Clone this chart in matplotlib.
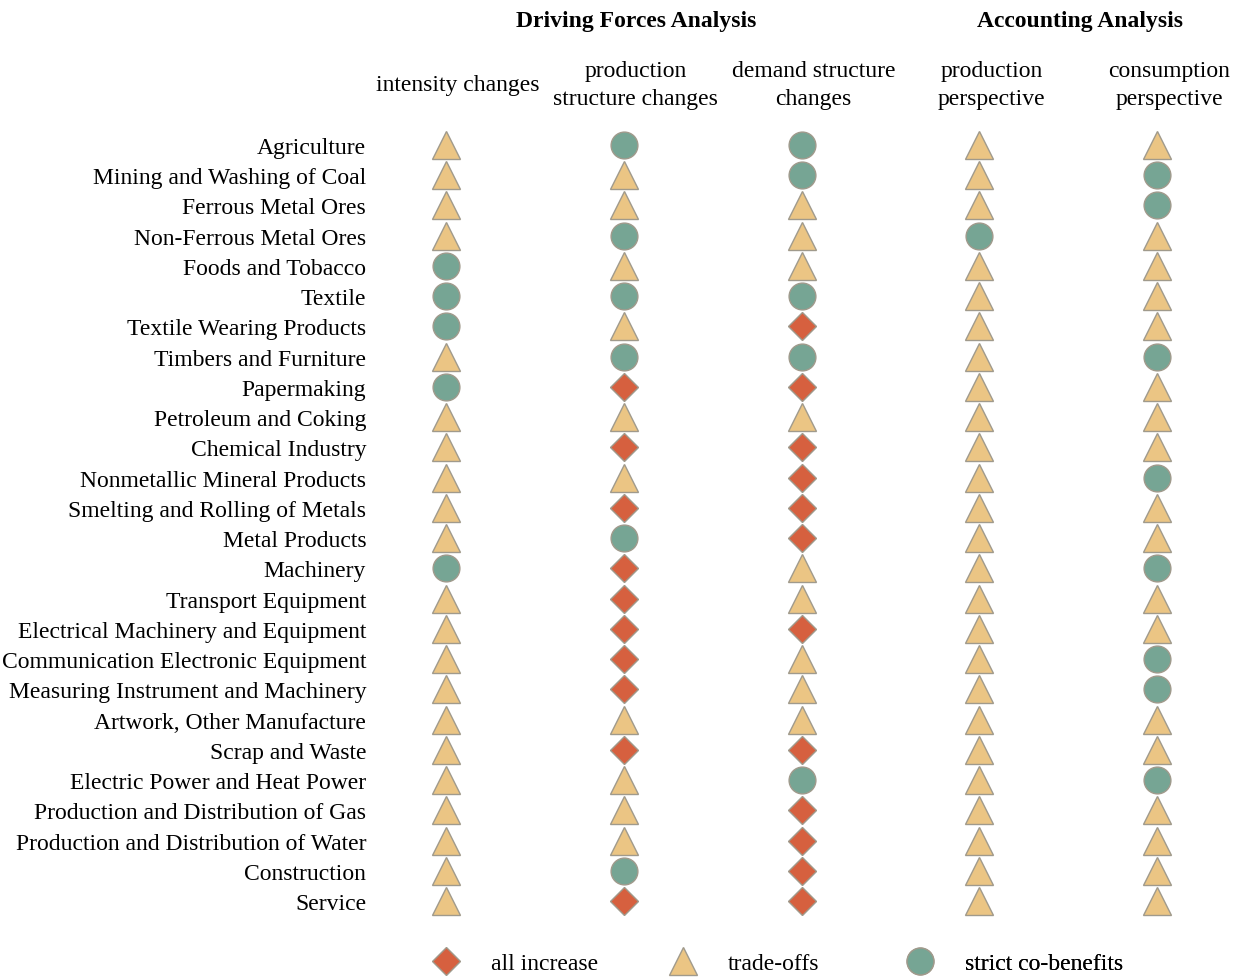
import matplotlib
matplotlib.use("Agg")
import matplotlib.pyplot as plt
from matplotlib.lines import Line2D

plt.rcParams['font.family'] = ['Liberation Serif', 'DejaVu Serif']

sectors = [
    "Agriculture", "Mining and Washing of Coal", "Ferrous Metal Ores",
    "Non-Ferrous Metal Ores", "Foods and Tobacco", "Textile",
    "Textile Wearing Products", "Timbers and Furniture", "Papermaking",
    "Petroleum and Coking", "Chemical Industry", "Nonmetallic Mineral Products",
    "Smelting and Rolling of Metals", "Metal Products", "Machinery",
    "Transport Equipment", "Electrical Machinery and Equipment",
    "Communication Electronic Equipment", "Measuring Instrument and Machinery",
    "Artwork, Other Manufacture", "Scrap and Waste",
    "Electric Power and Heat Power", "Production and Distribution of Gas",
    "Production and Distribution of Water", "Construction", "Service",
]

columns = ["intensity changes", "production\nstructure changes",
           "demand structure\nchanges", "production\nperspective",
           "consumption\nperspective"]
groups = ["Driving Forces Analysis", "Accounting Analysis"]

# D = all increase, T = trade-offs, C = strict co-benefits
intensity = list("TTTTCCCTCTTTTTCTTTTTTTTTTT")
prod_structure = list("CTTCTCTCDTDTDCDDDDDTDTTTCD")
demand_structure = list("CCTTTCDCDTDDDDTTDTTTDCDDDD")
production_persp = list("TTTCTTTTTTTTTTTTTTTTTTTTTT")
consumption_persp = list("TCCTTTTCTTTCTTCTTCCTTCTTTT")
series = [intensity, prod_structure, demand_structure,
          production_persp, consumption_persp]

legend_codes = ["D", "T", "C"]
legend_labels = {"D": "all increase", "T": "trade-offs", "C": "strict co-benefits"}
styles = {
    "D": dict(marker="D", color="#D6603F", size=13.8),
    "T": dict(marker="^", color="#EBC584", size=19.8),
    "C": dict(marker="o", color="#76A594", size=19.3),
}
edge = "#a09a8c"
FS = 17

W, H = 1238, 979
fig = plt.figure(figsize=(W / 100, H / 100), dpi=100)
col_px0, col_dx = 446.0, 177.75
row_px0, row_dy = 146.0, 30.24
left = col_px0 - 0.5 * col_dx
top = row_px0 - 0.5 * row_dy
ax_w, ax_h = 5 * col_dx, 26 * row_dy
ax = fig.add_axes([left / W, 1 - (top + ax_h) / H, ax_w / W, ax_h / H])
ax.set_xlim(-0.5, 4.5)
ax.set_ylim(25.5, -0.5)

for ci, vals in enumerate(series):
    for code in "DTC":
        ys = [ri for ri, v in enumerate(vals) if v == code]
        xs = [ci] * len(ys)
        st = styles[code]
        ax.plot(xs, ys, linestyle="none", marker=st["marker"],
                markersize=st["size"], markerfacecolor=st["color"],
                markeredgecolor=edge, markeredgewidth=1.0, clip_on=False)

ax.set_yticks(range(len(sectors)))
ax.set_yticklabels(sectors, fontsize=FS)
ax.tick_params(axis="y", length=0, pad=-6.5)
ax.set_xticks([])
for s in ax.spines.values():
    s.set_visible(False)

hdr_off = 12 / col_dx
hdr_y = (85.5 - row_px0) / row_dy
for ci, name in enumerate(columns):
    ax.text(ci + hdr_off, hdr_y, name, ha="center", va="center",
            fontsize=FS, linespacing=1.49, clip_on=False)

title_y = (22 - row_px0) / row_dy
ax.text(1 + hdr_off, title_y, groups[0], ha="center", va="center",
        fontsize=FS, fontweight="bold", clip_on=False)
ax.text(3.5 + hdr_off, title_y, groups[1], ha="center", va="center",
        fontsize=FS, fontweight="bold", clip_on=False)

# legend: three equally spaced single-entry legends
fs_px = FS * 100 / 72
leg_y = 1 - (964 - top) / ax_h
for k, code in enumerate(legend_codes):
    st = styles[code]
    h = Line2D([], [], linestyle="none", marker=st["marker"],
               markersize=st["size"], markerfacecolor=st["color"],
               markeredgecolor=edge, markeredgewidth=1.0,
               label=legend_labels[code])
    marker_px = 446 + 237 * k
    anchor_x = (marker_px - fs_px - left) / ax_w
    leg = ax.legend(handles=[h], frameon=False, fontsize=FS,
                    loc="center left", bbox_to_anchor=(anchor_x, leg_y),
                    handlelength=2.0, handletextpad=0.9,
                    borderaxespad=0, borderpad=0)
    ax.add_artist(leg)

fig.savefig("out.png", dpi=100)
